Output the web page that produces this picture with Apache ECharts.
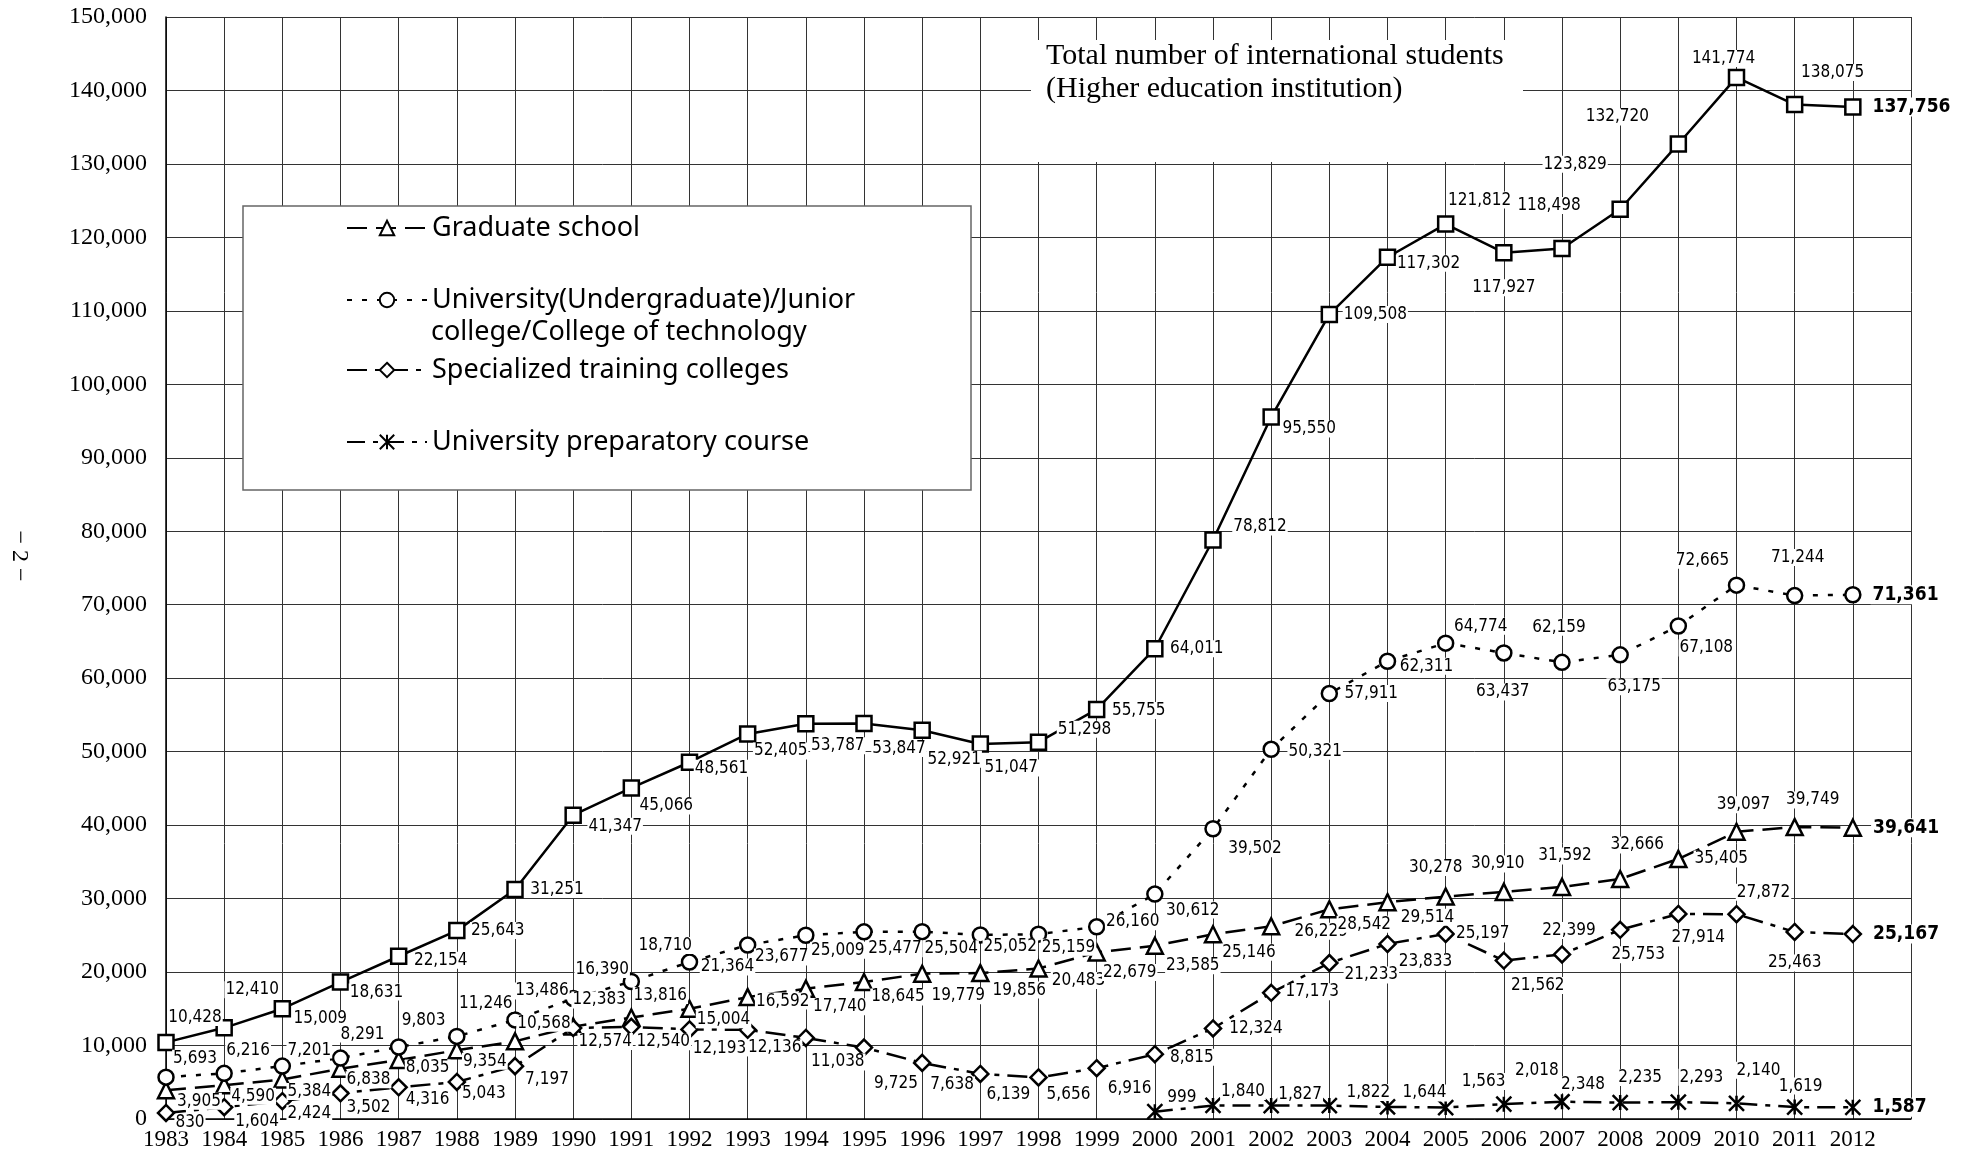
<!DOCTYPE html>
<html><head><meta charset="utf-8">
<script src="https://cdn.jsdelivr.net/npm/echarts@6/dist/echarts.min.js"></script>
<style>html,body{margin:0;padding:0;background:#fff}#c{width:1972px;height:1160px}</style>
</head><body><div id="c"></div><script>
// ---------- DATA ----------
const years = [1983,1984,1985,1986,1987,1988,1989,1990,1991,1992,1993,1994,1995,1996,1997,1998,1999,2000,2001,2002,2003,2004,2005,2006,2007,2008,2009,2010,2011,2012];
const totalStudents = [10428,12410,15009,18631,22154,25643,31251,41347,45066,48561,52405,53787,53847,52921,51047,51298,55755,64011,78812,95550,109508,117302,121812,117927,118498,123829,132720,141774,138075,137756];
const graduateSchool = [3905,4590,5384,6838,8035,9354,10568,12574,13816,15004,16592,17740,18645,19779,19856,20483,22679,23585,25146,26229,28542,29514,30278,30910,31592,32666,35405,39097,39749,39641];
const universityUndergrad = [5693,6216,7201,8291,9803,11246,13486,16390,18710,21364,23677,25009,25477,25504,25052,25159,26160,30612,39502,50321,57911,62311,64774,63437,62159,63175,67108,72665,71244,71361];
const specializedColleges = [830,1604,2424,3502,4316,5043,7197,12383,12540,12193,12136,11038,9725,7638,6139,5656,6916,8815,12324,17173,21233,23833,25197,21562,22399,25753,27914,27872,25463,25167];
const prepYears = [2000,2001,2002,2003,2004,2005,2006,2007,2008,2009,2010,2011,2012];
const preparatoryCourse = [999,1840,1827,1822,1644,1563,2018,2348,2235,2293,2140,1619,1587];

const seriesNames = ['Total number of international students (Higher education institution)','Graduate school','University(Undergraduate)/Junior college/College of technology','Specialized training colleges','University preparatory course'];
const yMin = 0, yMax = 150000, yStep = 10000;
const xMin = 1983, xMax = 2013, xStep = 1;

// ---------- LABEL PLACEMENT (px offsets from marker centre; null = end label at right) ----------
const totalLabelOffsets = [[29,-25],[28,-38],[38,10],[36,10],[42,4],[41,0],[42,0],[42,11],[35,18],[32,6],[33,17],[32,22],[35,25],[32,29],[31,24],[46,-13],[42,1],[42,0],[47,-13],[38,12],[46,0],[41,6],[34,-24],[0,35],[-13,-43],[-45,-45],[-61,-27],[-13,-19],[38,-32],null];
const gradLabelOffsets = [[33,11],[29,11],[27,12],[28,11],[29,8],[28,11],[29,-18],[32,15],[29,-22],[34,11],[35,4],[34,18],[34,15],[36,22],[39,17],[40,12],[33,20],[38,20],[36,18],[50,5],[35,15],[40,15],[-10,-29],[-6,-28],[3,-31],[17,-34],[43,0],[7,-27],[18,-27],null];
const univLabelOffsets = [[29,-19],[24,-23],[27,-16],[22,-24],[25,-26],[29,-33],[27,-29],[29,-29],[34,-36],[38,5],[34,12],[32,15],[31,17],[29,17],[30,12],[30,13],[36,-5],[38,16],[42,20],[44,2],[42,0],[39,5],[35,-17],[-1,39],[-3,-35],[14,32],[28,22],[-34,-25],[3,-38],null];
const specLabelOffsets = [[24,10],[33,14],[27,12],[28,14],[29,12],[27,12],[32,13],[26,-28],[32,15],[30,19],[27,18],[32,24],[32,36],[30,22],[28,21],[30,17],[33,20],[37,3],[43,0],[41,-1],[42,12],[38,18],[37,0],[34,25],[7,-24],[18,25],[20,24],[27,-22],[0,31],null];
const prepLabelOffsets = [[27,-14],[30,-14],[29,-11],[39,-13],[37,-14],[38,-26],[33,-34],[21,-17],[20,-25],[23,-25],[22,-33],[6,-21],null];

const LABEL_FONT = '"DejaVu Sans Condensed","Liberation Sans Narrow",sans-serif';
const SERIF = '"Liberation Serif","DejaVu Serif",serif';
const LEGEND_FONT = '"Noto Sans","Liberation Sans",sans-serif';

function buildData(xs, ys, offsets) {
  return xs.map((x, i) => {
    const off = offsets[i];
    const item = { value: [x, ys[i]] };
    if (off) {
      item.label = { offset: off };
    } else {
      item.label = { position: 'right', distance: 9, offset: [0, 0], fontWeight: 'bold', fontSize: 19, padding: [0, 2] };
    }
    return item;
  });
}

function makeSeries(name, xs, ys, offsets, symbol, dash, symbolSize, fillColor) {
  return {
    name: name,
    type: 'line',
    data: buildData(xs, ys, offsets),
    symbol: symbol,
    symbolSize: symbolSize,
    showAllSymbol: true,
    lineStyle: { color: '#000', width: 2.5, type: dash },
    itemStyle: { color: fillColor || '#fff', borderColor: '#000', borderWidth: 2.5 },
    label: {
      show: true, position: 'inside', color: '#000',
      fontFamily: LABEL_FONT, fontSize: 17,
      backgroundColor: '#fff', padding: [0, 1],
      formatter: p => p.value[1].toLocaleString('en-US')
    },
    emphasis: { disabled: true },
    z: 3
  };
}

const chart = echarts.init(document.getElementById('c'), null, { renderer: 'canvas' });

const legendBase = {
  orient: 'vertical', left: 346, padding: 0, itemWidth: 80, itemHeight: 18,
  textStyle: { fontFamily: LEGEND_FONT, fontSize: 27, color: '#000', lineHeight: 32 },
  selectedMode: false, z: 200
};

const option = {
  animation: false,
  backgroundColor: '#fff',
  grid: { left: 166, right: 61, top: 17, bottom: 41, containLabel: false },
  xAxis: {
    type: 'value', min: xMin, max: xMax, interval: xStep,
    axisLine: { show: true, lineStyle: { color: '#000', width: 1.5 } },
    axisTick: { show: false },
    axisLabel: { color: '#000', fontFamily: SERIF, fontSize: 23, margin: 9,
      formatter: v => (v === xMax ? '' : String(v)) },
    splitLine: { show: true, lineStyle: { color: '#333', width: 1 } }
  },
  yAxis: {
    type: 'value', min: yMin, max: yMax, interval: yStep,
    axisLine: { show: true, lineStyle: { color: '#000', width: 1.5 } },
    axisTick: { show: false },
    axisLabel: { color: '#000', fontFamily: SERIF, fontSize: 24, margin: 19,
      formatter: v => v.toLocaleString('en-US') },
    splitLine: { show: true, lineStyle: { color: '#333', width: 1 } }
  },
  legend: [
    Object.assign({}, legendBase, { top: 212, data: [seriesNames[1]] }),
    Object.assign({}, legendBase, { top: 284, data: [seriesNames[2]], formatter: () => 'University(Undergraduate)/Junior' }),
    Object.assign({}, legendBase, { top: 354, data: [seriesNames[3]] }),
    Object.assign({}, legendBase, { top: 426, data: [seriesNames[4]] })
  ],
  graphic: [
    { type: 'rect', z: 100, shape: { x: 243, y: 206, width: 728, height: 284 }, style: { fill: '#fff', stroke: '#666', lineWidth: 1.5 } },
    { type: 'text', z: 101, x: 431, y: 332, style: { text: 'college/College of technology', fontFamily: LEGEND_FONT, fontSize: 27, fill: '#000', verticalAlign: 'middle' } },
    { type: 'rect', z: 100, shape: { x: 1031, y: 40, width: 492, height: 122 }, style: { fill: '#fff' } },
    { type: 'text', z: 101, x: 1046, y: 40, style: { text: 'Total number of international students\n(Higher education institution)', fontFamily: SERIF, fontSize: 30, lineHeight: 33, fill: '#000' } },
    { type: 'text', z: 101, x: 19, y: 556, rotation: -Math.PI / 2, style: { text: '− 2 −', fontFamily: SERIF, fontSize: 24, fill: '#000', align: 'center', verticalAlign: 'middle' } }
  ],
  series: [
    makeSeries(seriesNames[0], years, totalStudents, totalLabelOffsets, 'rect', 'solid', 15),
    makeSeries(seriesNames[1], years, graduateSchool, gradLabelOffsets, 'triangle', [20, 9], 16),
    makeSeries(seriesNames[2], years, universityUndergrad, univLabelOffsets, 'circle', [5, 10], 15),
    makeSeries(seriesNames[3], years, specializedColleges, specLabelOffsets, 'diamond', [20, 8, 5, 8], 16),
    makeSeries(seriesNames[4], prepYears, preparatoryCourse, prepLabelOffsets, 'path://M0,0L10,10M10,0L0,10M5,0L5,10', [18, 8, 5, 8], 15, '#000')
  ]
};
chart.setOption(option);
</script></body></html>
